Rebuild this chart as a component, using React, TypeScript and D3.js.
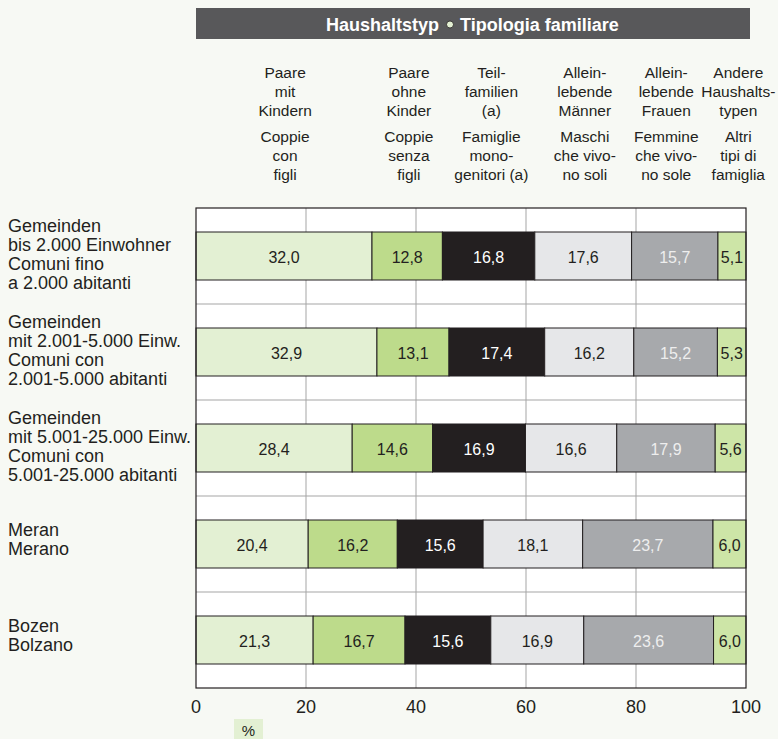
import * as d3 from "d3";

// categories (row groups) — label lines
const groups = ["g1", "g2", "g3", "meran", "bozen"];
const groupLabels: string[][] = [
  ["Gemeinden", "bis 2.000 Einwohner", "Comuni fino", "a 2.000 abitanti"],
  ["Gemeinden", "mit 2.001-5.000 Einw.", "Comuni con", "2.001-5.000 abitanti"],
  ["Gemeinden", "mit 5.001-25.000 Einw.", "Comuni con", "5.001-25.000 abitanti"],
  ["Meran", "Merano"],
  ["Bozen", "Bolzano"],
];

// series (household types)
const seriesKeys = ["mitKind", "ohneKind", "teil", "maenner", "frauen", "andere"];
const seriesDe: string[][] = [
  ["Paare", "mit", "Kindern"],
  ["Paare", "ohne", "Kinder"],
  ["Teil-", "familien", "(a)"],
  ["Allein-", "lebende", "Männer"],
  ["Allein-", "lebende", "Frauen"],
  ["Andere", "Haushalts-", "typen"],
];
const seriesIt: string[][] = [
  ["Coppie", "con", "figli"],
  ["Coppie", "senza", "figli"],
  ["Famiglie", "mono-", "genitori (a)"],
  ["Maschi", "che vivo-", "no soli"],
  ["Femmine", "che vivo-", "no sole"],
  ["Altri", "tipi di", "famiglia"],
];

// values per group, in seriesKeys order
const valuesG1 = [32.0, 12.8, 16.8, 17.6, 15.7, 5.1];
const valuesG2 = [32.9, 13.1, 17.4, 16.2, 15.2, 5.3];
const valuesG3 = [28.4, 14.6, 16.9, 16.6, 17.9, 5.6];
const valuesMeran = [20.4, 16.2, 15.6, 18.1, 23.7, 6.0];
const valuesBozen = [21.3, 16.7, 15.6, 16.9, 23.6, 6.0];
const allValues = [valuesG1, valuesG2, valuesG3, valuesMeran, valuesBozen];

const xTickValues = [0, 20, 40, 60, 80, 100];

// styling / layout
const fills = ["#e3f0d3", "#bddb8b", "#231f20", "#e6e7e9", "#a7a9ac", "#cde5a7"];
const textFills = ["#231f20", "#231f20", "#ffffff", "#231f20", "#eeeeee", "#231f20"];
const headerCenters = [16.2, 38.7, 53.7, 70.7, 85.5, 98.6]; // in % units
const W = 778;
const H = 739;
const BG = "#f7f9f4";
const INK = "#231f20";
const FONT = "Arial, 'Liberation Sans', Helvetica, sans-serif";

export default function App() {
  const x = d3.scaleLinear().domain([0, 100]).range([196, 746]);
  const y = d3.scaleBand<string>().domain(groups).range([208, 688]).paddingInner(0.5).paddingOuter(0.25);
  const step = y.step();
  const plotTop = 208;
  const plotBottom = 688;

  const stacks = allValues.map((vals) => {
    let acc = 0;
    return vals.map((v) => {
      const x0 = acc;
      acc += v;
      return { x0, x1: Math.min(acc, 100), v };
    });
  });

  return (
    <svg width={W} height={H} style={{ position: "absolute", left: 0, top: 0, background: BG, fontFamily: FONT }}>
      <rect x={0} y={0} width={W} height={H} fill={BG} />

      {/* title bar */}
      <rect x={196} y={8} width={554} height={31} fill="#58585a" />
      <text x={439} y={30.5} textAnchor="end" fill="#fff" fontWeight="bold" fontSize={18}>Haushaltstyp</text>
      <circle cx={450} cy={24.5} r={3.5} fill="#e3f0d3" stroke={INK} strokeWidth={0.8} />
      <text x={460} y={30.5} textAnchor="start" fill="#fff" fontWeight="bold" fontSize={18}>Tipologia familiare</text>

      {/* column headers */}
      {seriesKeys.map((k, i) => (
        <g key={`h-${k}`} fill={INK} fontSize={15.5} textAnchor="middle">
          {seriesDe[i].map((ln, j) => (
            <text key={`de-${j}`} x={x(headerCenters[i])} y={77.5 + j * 19.2}>{ln}</text>
          ))}
          {seriesIt[i].map((ln, j) => (
            <text key={`it-${j}`} x={x(headerCenters[i])} y={141.5 + j * 19.2}>{ln}</text>
          ))}
        </g>
      ))}

      {/* plot background */}
      <rect x={x(0)} y={plotTop} width={x(100) - x(0)} height={plotBottom - plotTop} fill="#fff" />

      {/* vertical grid */}
      {xTickValues.slice(1, -1).map((t) => (
        <line key={`gx-${t}`} x1={x(t)} x2={x(t)} y1={plotTop} y2={plotBottom} stroke="#a5a5a5" strokeWidth={1} />
      ))}
      {/* horizontal group separators */}
      {groups.slice(1).map((g, i) => (
        <line key={`gy-${g}`} x1={x(0)} x2={x(100)} y1={plotTop + (i + 1) * step} y2={plotTop + (i + 1) * step} stroke="#a5a5a5" strokeWidth={1} />
      ))}

      {/* bars */}
      {groups.map((g, gi) => (
        <g key={`bar-${g}`}>
          {stacks[gi].map((s, si) => (
            <g key={`s-${si}`}>
              <rect
                x={x(s.x0)}
                y={y(g)!}
                width={x(s.x1) - x(s.x0)}
                height={y.bandwidth()}
                fill={fills[si]}
                stroke={INK}
                strokeWidth={1}
              />
              <text
                x={(x(s.x0) + x(s.x1)) / 2}
                y={y(g)! + y.bandwidth() / 2 + 6.5}
                textAnchor="middle"
                fontSize={16}
                fill={textFills[si]}
              >
                {d3.format(".1f")(s.v).replace(".", ",")}
              </text>
            </g>
          ))}
        </g>
      ))}

      {/* plot frame */}
      <rect x={x(0)} y={plotTop} width={x(100) - x(0)} height={plotBottom - plotTop} fill="none" stroke={INK} strokeWidth={1.2} />

      {/* row labels */}
      {groups.map((g, gi) => {
        const lines = groupLabels[gi];
        const lh = 18.7;
        const cy = y(g)! + y.bandwidth() / 2 + (lines.length === 2 ? 1.5 : 4.5);
        return (
          <g key={`lbl-${g}`} fill={INK} fontSize={18}>
            {lines.map((ln, j) => (
              <text key={j} x={8} y={cy - ((lines.length - 1) / 2) * lh + j * lh}>{ln}</text>
            ))}
          </g>
        );
      })}

      {/* x axis labels */}
      {xTickValues.map((t) => (
        <text key={`xt-${t}`} x={x(t)} y={713} textAnchor="middle" fontSize={18} fill={INK}>{t}</text>
      ))}

      {/* unit label */}
      <rect x={234} y={719} width={29} height={20} fill="#e3f0d3" />
      <text x={248.5} y={735.5} textAnchor="middle" fontSize={15} fill={INK}>%</text>
    </svg>
  );
}
